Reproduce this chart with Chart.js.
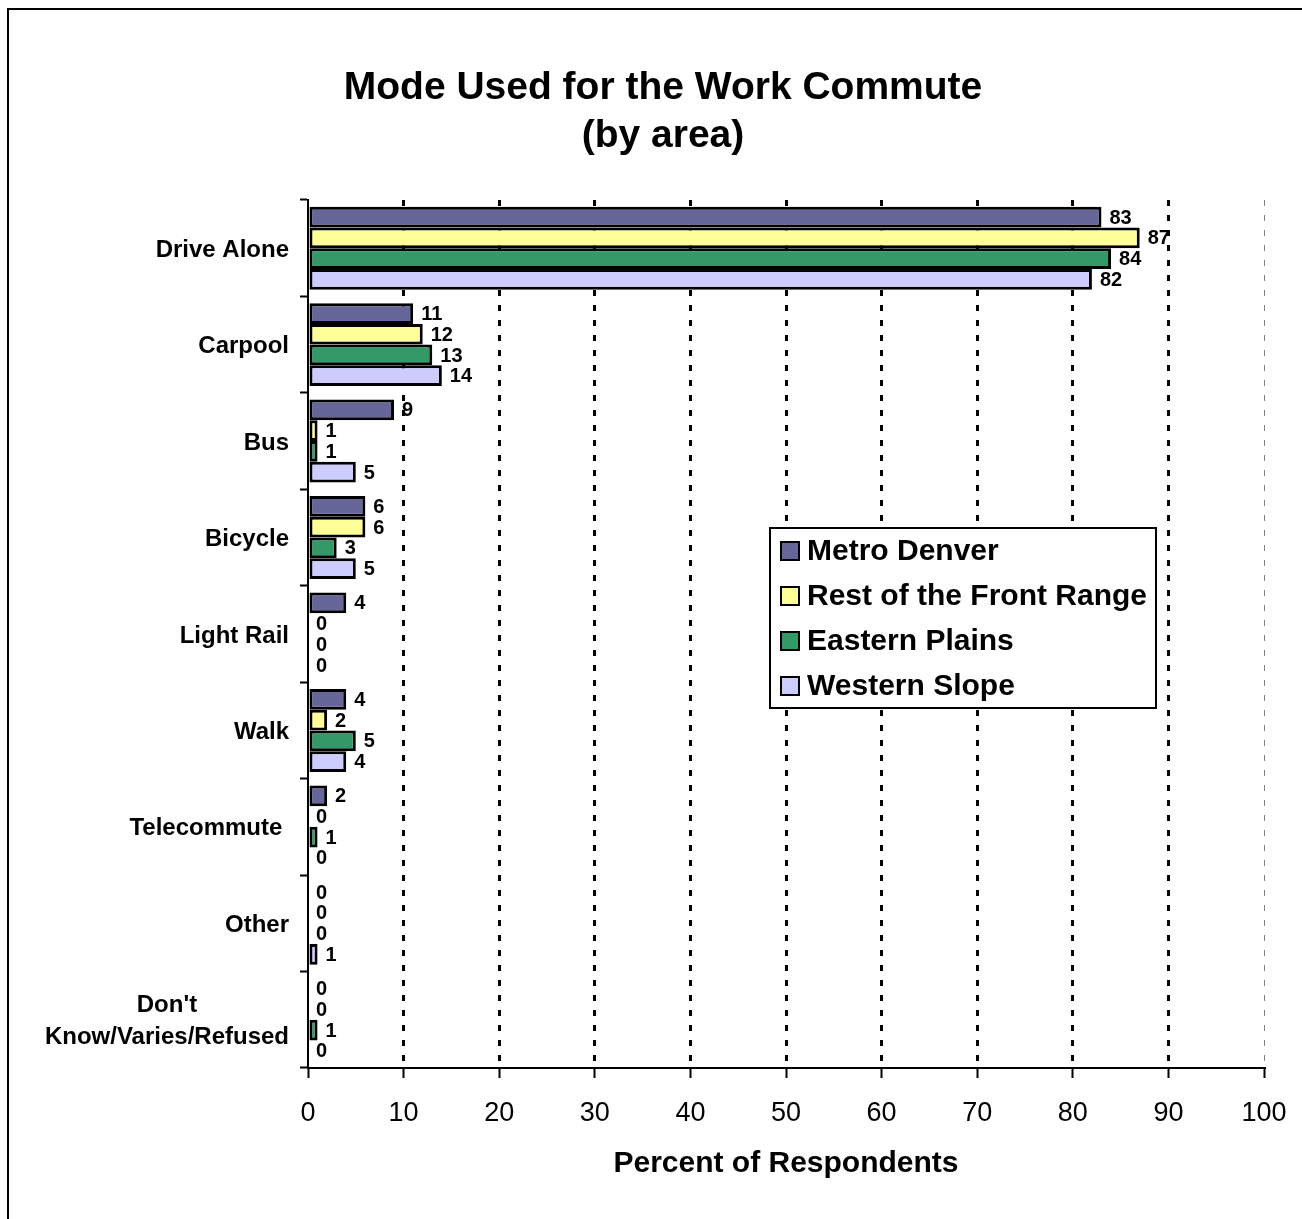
<!DOCTYPE html>
<html>
<head>
<meta charset="utf-8">
<title>Mode Used for the Work Commute</title>
<script src="https://cdn.jsdelivr.net/npm/chart.js@4.4.1/dist/chart.umd.min.js"></script>
<style>
  html, body { margin: 0; padding: 0; background: #fff; overflow: hidden; }
  #wrap { position: relative; width: 1302px; height: 1219px; }
  #frame { position: absolute; left: 7px; top: 8px; width: 1400px; height: 1300px;
           border-left: 2px solid #000; border-top: 2px solid #000; pointer-events: none; }
  canvas { position: absolute; left: 0; top: 0; }
</style>
</head>
<body>
<div id="wrap">
  <canvas id="commuteChart" width="1302" height="1219"></canvas>
  <div id="frame"></div>
</div>
<script>
var FONT = '"Liberation Sans", Arial, Helvetica, sans-serif';

// survey results, percent of respondents
var categories = ['Drive Alone', 'Carpool', 'Bus', 'Bicycle', 'Light Rail', 'Walk',
                  'Telecommute ', 'Other', ["Don't", 'Know/Varies/Refused']];
var metroDenver    = [83, 11, 9, 6, 4, 4, 2, 0, 0];
var restFrontRange = [87, 12, 1, 6, 0, 2, 0, 0, 0];
var easternPlains  = [84, 13, 1, 3, 0, 5, 1, 0, 1];
var westernSlope   = [82, 14, 5, 5, 0, 4, 0, 1, 0];
var seriesNames  = ['Metro Denver', 'Rest of the Front Range', 'Eastern Plains', 'Western Slope'];
var seriesColors = ['#666699', '#FFFF99', '#339966', '#CCCCFF'];
var xTickValues  = [0, 10, 20, 30, 40, 50, 60, 70, 80, 90, 100];

var seriesData = [metroDenver, restFrontRange, easternPlains, westernSlope];

// value labels at the end of each bar
var barLabels = {
  id: 'barLabels',
  afterDatasetsDraw: function (chart) {
    var ctx = chart.ctx;
    ctx.save();
    ctx.font = 'bold 20px ' + FONT;
    ctx.fillStyle = '#000';
    ctx.textAlign = 'left';
    ctx.textBaseline = 'middle';
    chart.data.datasets.forEach(function (ds, i) {
      chart.getDatasetMeta(i).data.forEach(function (bar, j) {
        ctx.fillText(String(ds.data[j]), bar.x + 8, bar.y + 1);
      });
    });
    ctx.restore();
  }
};

// category names, each block right aligned, lines centred within the block
var categoryLabels = {
  id: 'categoryLabels',
  afterDraw: function (chart) {
    var ctx = chart.ctx;
    var yScale = chart.scales.y;
    var right = yScale.right - 19;
    var lineH = 32;
    ctx.save();
    ctx.font = 'bold 24px ' + FONT;
    ctx.fillStyle = '#000';
    ctx.textAlign = 'center';
    ctx.textBaseline = 'middle';
    categories.forEach(function (label, i) {
      var lines = Array.isArray(label) ? label : [label];
      var widest = 0;
      lines.forEach(function (l) { widest = Math.max(widest, ctx.measureText(l).width); });
      var cy = yScale.getPixelForTick(i) + 2;
      lines.forEach(function (l, k) {
        ctx.fillText(l, right - widest / 2, cy + (k - (lines.length - 1) / 2) * lineH);
      });
    });
    ctx.restore();
  }
};

// boxed legend sitting inside the plot
var boxLegend = {
  id: 'boxLegend',
  afterDraw: function (chart) {
    var ctx = chart.ctx;
    var bx = 770, by = 528, bw = 386, bh = 180;
    ctx.save();
    ctx.fillStyle = '#fff';
    ctx.fillRect(bx, by, bw, bh);
    ctx.lineWidth = 2;
    ctx.strokeStyle = '#000';
    ctx.strokeRect(bx, by, bw, bh);
    ctx.font = 'bold 30px ' + FONT;
    ctx.textAlign = 'left';
    ctx.textBaseline = 'middle';
    chart.data.datasets.forEach(function (ds, i) {
      var cy = 551 + i * 45;
      ctx.fillStyle = ds.backgroundColor;
      ctx.fillRect(781, cy - 9, 18, 18);
      ctx.lineWidth = 2;
      ctx.strokeStyle = '#000';
      ctx.strokeRect(781, cy - 9, 18, 18);
      ctx.fillStyle = '#000';
      ctx.fillText(ds.label, 807, cy + 1);
    });
    ctx.restore();
  }
};

var datasets = seriesNames.map(function (name, i) {
  return {
    label: name,
    data: seriesData[i],
    backgroundColor: seriesColors[i],
    borderColor: '#000',
    borderWidth: 3,
    borderSkipped: false,
    categoryPercentage: 0.86,
    barPercentage: 1.0
  };
});

var ctx = document.getElementById('commuteChart').getContext('2d');
var commuteChart = new Chart(ctx, {
  type: 'bar',
  data: { labels: categories, datasets: datasets },
  options: {
    indexAxis: 'y',
    responsive: false,
    animation: false,
    layout: { padding: { left: 62, right: 38, top: 0, bottom: 0 } },
    plugins: {
      legend: { display: false },
      tooltip: { enabled: false },
      title: {
        display: true,
        text: ['Mode Used for the Work Commute', '(by area)'],
        color: '#000',
        font: { family: FONT, size: 39, weight: 'bold', lineHeight: 1.23 },
        padding: { top: 64, bottom: 40 }
      }
    },
    scales: {
      x: {
        type: 'linear',
        position: 'bottom',
        min: 0,
        max: 100,
        afterBuildTicks: function (scale) {
          scale.ticks = xTickValues.map(function (v) { return { value: v }; });
        },
        ticks: {
          color: '#000',
          padding: 19,
          font: { family: FONT, size: 27 }
        },
        grid: {
          color: function (c) {
            if (!c.tick) return '#000';
            if (c.tick.value === 0) return 'rgba(0,0,0,0)';
            return c.tick.value === 100 ? '#808080' : '#000';
          },
          lineWidth: function (c) {
            return c.tick && c.tick.value === 100 ? 1 : 3;
          },
          tickColor: '#000',
          tickWidth: 2,
          tickLength: 10
        },
        border: { display: true, color: '#000', width: 2, dash: [6, 9] },
        title: {
          display: true,
          text: 'Percent of Respondents',
          color: '#000',
          font: { family: FONT, size: 30, weight: 'bold' },
          padding: { top: 0, bottom: 37 }
        },
        afterFit: function (scale) {
          scale.height = 151;
          scale.paddingLeft = 0;
          scale.paddingRight = 0;
        }
      },
      y: {
        type: 'category',
        offset: true,
        ticks: { display: false },
        grid: {
          drawOnChartArea: false,
          offset: true,
          color: '#000',
          tickLength: 8,
          tickWidth: 2
        },
        border: { display: true, color: '#000', width: 2 },
        afterFit: function (scale) {
          scale.width = 246;
          scale.paddingTop = 0;
          scale.paddingBottom = 0;
        }
      }
    }
  },
  plugins: [barLabels, categoryLabels, boxLegend]
});
</script>
</body>
</html>
